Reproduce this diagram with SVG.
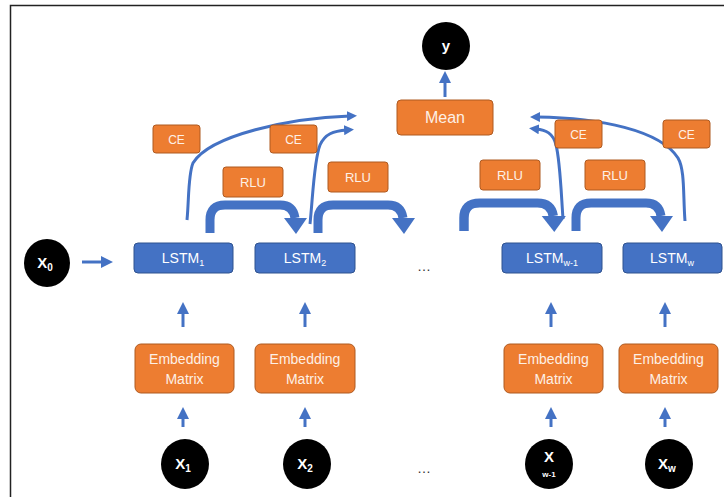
<svg xmlns="http://www.w3.org/2000/svg" xmlns:xlink="http://www.w3.org/1999/xlink" width="724" height="498" viewBox="0 0 724 498">
<style>
.blue{fill:#4472C4;stroke:#2F528F;stroke-width:1}
.orange{fill:#ED7D31;stroke:#AE5A21;stroke-width:1}
.circ{fill:#000}
.t{font-family:"Liberation Sans",Arial,sans-serif;text-anchor:middle;fill:#fff}
.to{font-family:"Liberation Sans",Arial,sans-serif;text-anchor:middle;fill:#FDF0E6}
.tc{font-family:"Liberation Sans",Arial,sans-serif;text-anchor:middle;fill:#fff;font-weight:bold;font-size:15px}
.thin{fill:none;stroke:#4472C4;stroke-width:3}
.thick{fill:none;stroke:#4472C4;stroke-width:9}
.dots{font-family:"Liberation Sans",Arial,sans-serif;text-anchor:middle;fill:#333;font-size:14px}
</style>
<defs>
<marker id="ah" markerWidth="10" markerHeight="10" refX="3" refY="5" orient="auto" markerUnits="userSpaceOnUse" viewBox="0 0 10 10">
<path d="M0,0 L10,5 L0,10 z" fill="#4472C4"/>
</marker>
<marker id="ah2" markerWidth="12" markerHeight="12" refX="4" refY="6" orient="auto" markerUnits="userSpaceOnUse" viewBox="0 0 12 12">
<path d="M0,0 L12,6 L0,12 z" fill="#4472C4"/>
</marker>
<g id="curl">
<path class="thick" d="M0,28 V15 Q0,0 15,0 H70 Q83,0 85,13"/>
<polygon points="74,13 97,13 86,29" fill="#4472C4"/>
</g>
</defs>
<rect width="724" height="498" fill="#fff"/>
<path d="M10.5,497 V5.5 H724" fill="none" stroke="#222" stroke-width="1.5"/>

<g id="connectors">
<line class="thin" x1="82" y1="262" x2="105" y2="262" marker-end="url(#ah2)"/>
<line class="thin" x1="183" y1="327" x2="183" y2="310" marker-end="url(#ah2)"/>
<line class="thin" x1="305" y1="327" x2="305" y2="310" marker-end="url(#ah2)"/>
<line class="thin" x1="551" y1="327" x2="551" y2="310" marker-end="url(#ah2)"/>
<line class="thin" x1="665" y1="327" x2="665" y2="310" marker-end="url(#ah2)"/>
<line class="thin" x1="183" y1="427" x2="183" y2="415" marker-end="url(#ah2)"/>
<line class="thin" x1="305" y1="427" x2="305" y2="415" marker-end="url(#ah2)"/>
<line class="thin" x1="551" y1="427" x2="551" y2="415" marker-end="url(#ah2)"/>
<line class="thin" x1="665" y1="427" x2="665" y2="415" marker-end="url(#ah2)"/>
<line class="thin" x1="445" y1="97" x2="445" y2="79" marker-end="url(#ah2)"/>
<use xlink:href="#curl" transform="translate(210,205)"/>
<use xlink:href="#curl" transform="translate(318,205)"/>
<use xlink:href="#curl" transform="translate(464,203) scale(1.05,1)"/>
<use xlink:href="#curl" transform="translate(576,203)"/>
<path class="thin" d="M187,220 C189,200 188,175 193,163 C210,135 290,118 350,116" marker-end="url(#ah)"/>
<path class="thin" d="M310,224 C313,195 314,160 320,145 C325,134 333,131 347,130" marker-end="url(#ah)"/>
<path class="thin" d="M563,219 C561,190 560,160 556,145 C553,133 546,130 536,129" marker-end="url(#ah)"/>
<path class="thin" d="M685,221 C683,195 685,170 678,158 C660,130 600,118 537,117" marker-end="url(#ah)"/>
</g>

<g id="y"><ellipse class="circ" cx="446" cy="46" rx="24" ry="24"/><text class="tc" x="446" y="51">y</text></g>
<g id="mean"><rect class="orange" x="397" y="100" width="96" height="35" rx="4"/><text class="to" x="445" y="123" font-size="16">Mean</text></g>

<g id="ce1"><rect class="orange" x="153" y="125" width="47" height="28" rx="3"/><text class="to" x="176.5" y="143.5" font-size="12">CE</text></g>
<g id="ce2"><rect class="orange" x="270" y="125" width="47" height="28" rx="3"/><text class="to" x="293.5" y="143.5" font-size="12">CE</text></g>
<g id="ce3"><rect class="orange" x="555" y="120" width="47" height="28" rx="3"/><text class="to" x="578.5" y="138.5" font-size="12">CE</text></g>
<g id="ce4"><rect class="orange" x="663" y="120" width="47" height="28" rx="3"/><text class="to" x="686.5" y="138.5" font-size="12">CE</text></g>

<g id="rlu1"><rect class="orange" x="223" y="167" width="60" height="30" rx="3"/><text class="to" x="253" y="187" font-size="13">RLU</text></g>
<g id="rlu2"><rect class="orange" x="328" y="162" width="60" height="30" rx="3"/><text class="to" x="358" y="182" font-size="13">RLU</text></g>
<g id="rlu3"><rect class="orange" x="480" y="160" width="60" height="30" rx="3"/><text class="to" x="510" y="180" font-size="13">RLU</text></g>
<g id="rlu4"><rect class="orange" x="585" y="160" width="60" height="30" rx="3"/><text class="to" x="615" y="180" font-size="13">RLU</text></g>

<g id="x0"><ellipse class="circ" cx="47" cy="263" rx="23" ry="24"/><text class="tc" x="45" y="268">X<tspan font-size="10" dy="3">0</tspan></text></g>

<g id="lstm1"><rect class="blue" x="134" y="243" width="99" height="30" rx="4"/><text class="t" x="183" y="263" font-size="14">LSTM<tspan font-size="9" dy="3">1</tspan></text></g>
<g id="lstm2"><rect class="blue" x="255" y="243" width="100" height="30" rx="4"/><text class="t" x="305" y="263" font-size="14">LSTM<tspan font-size="9" dy="3">2</tspan></text></g>
<g id="lstmw1"><rect class="blue" x="502" y="243" width="100" height="30" rx="4"/><text class="t" x="552" y="263" font-size="14">LSTM<tspan font-size="9" dy="3">w-1</tspan></text></g>
<g id="lstmw"><rect class="blue" x="623" y="243" width="99" height="30" rx="4"/><text class="t" x="672" y="263" font-size="14">LSTM<tspan font-size="9" dy="3">w</tspan></text></g>

<text class="dots" x="424" y="271">…</text>

<g id="emb1"><rect class="orange" x="135" y="344" width="99" height="49" rx="6"/><text class="to" x="184.5" y="364" font-size="14">Embedding</text><text class="to" x="184.5" y="384" font-size="14">Matrix</text></g>
<g id="emb2"><rect class="orange" x="255" y="344" width="100" height="49" rx="6"/><text class="to" x="305" y="364" font-size="14">Embedding</text><text class="to" x="305" y="384" font-size="14">Matrix</text></g>
<g id="emb3"><rect class="orange" x="504" y="344" width="99" height="49" rx="6"/><text class="to" x="553.5" y="364" font-size="14">Embedding</text><text class="to" x="553.5" y="384" font-size="14">Matrix</text></g>
<g id="emb4"><rect class="orange" x="619" y="344" width="99" height="49" rx="6"/><text class="to" x="668.5" y="364" font-size="14">Embedding</text><text class="to" x="668.5" y="384" font-size="14">Matrix</text></g>

<g id="x1"><ellipse class="circ" cx="185" cy="464" rx="24" ry="25"/><text class="tc" x="183" y="469">X<tspan font-size="10" dy="3">1</tspan></text></g>
<g id="x2"><ellipse class="circ" cx="307" cy="464" rx="24" ry="25"/><text class="tc" x="305" y="469">X<tspan font-size="10" dy="3">2</tspan></text></g>
<g id="xw1"><ellipse class="circ" cx="549" cy="464" rx="24" ry="25"/><text class="tc" x="549" y="462">X</text><text class="t" x="549" y="477" font-size="8" font-weight="bold">w-1</text></g>
<g id="xw"><ellipse class="circ" cx="669" cy="464" rx="24" ry="25"/><text class="tc" x="667" y="469">X<tspan font-size="10" dy="3">w</tspan></text></g>

<text class="dots" x="424" y="473">…</text>
</svg>
